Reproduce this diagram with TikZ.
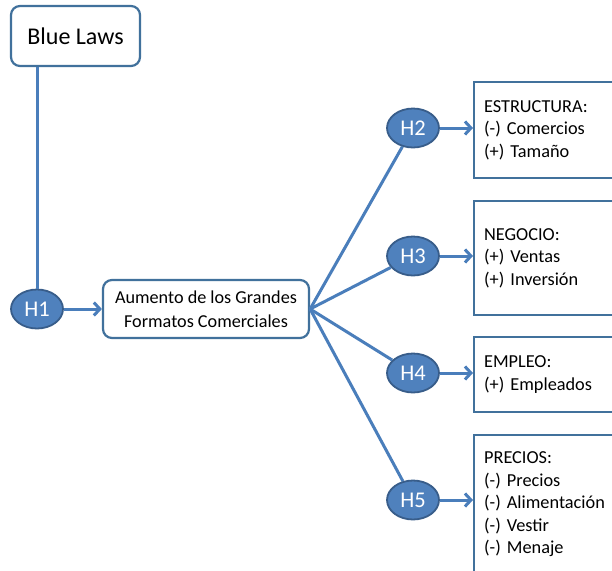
\documentclass[tikz,border=0pt]{standalone}
\usepackage{fontspec}
\setmainfont{Carlito}
\usetikzlibrary{shapes.geometric,arrows.meta}
\definecolor{lineblue}{HTML}{4A7EBB}
\definecolor{boxblue}{HTML}{41719C}
\definecolor{hfill}{HTML}{4F81BD}
\definecolor{hdraw}{HTML}{385D8A}
\tikzset{
  hyp/.style={ellipse, fill=hfill, draw=hdraw, line width=1.8pt, minimum width=52pt, minimum height=39pt, inner sep=0pt, text=white, font=\fontsize{22.5}{26}\selectfont},
  rbox/.style={draw=boxblue, line width=2.2pt, rounded corners=9pt, fill=white, align=center},
  resbox/.style={draw=boxblue, line width=2.2pt, fill=white, align=left, text width=142pt, inner xsep=10pt, inner ysep=0pt, anchor=west, font=\fontsize{18.3}{22.5}\selectfont},
  conn/.style={draw=lineblue, line width=3pt},
  arr/.style={conn, -{Straight Barb[length=6pt,width=13pt]}}
}
\begin{document}
\begin{tikzpicture}[x=1pt,y=-1pt]
\clip (0,0) rectangle (612,570);
\fill[white] (0,0) rectangle (612,570);
\node[rbox, minimum width=129pt, minimum height=60pt, font=\fontsize{24}{28}\selectfont] (bl) at (75.5,36) {Blue Laws};
\node[rbox, minimum width=206pt, minimum height=58pt, font=\fontsize{18.2}{24}\selectfont] (main) at (206,309) {Aumento de los Grandes\\Formatos Comerciales};
\node[hyp] (h1) at (37,309) {H1};
\node[hyp] (h2) at (413,128) {H2};
\node[hyp] (h3) at (413,256) {H3};
\node[hyp] (h4) at (413,373) {H4};
\node[hyp] (h5) at (413,500) {H5};
\node[resbox, minimum height=96pt] (r2) at (473,130) {ESTRUCTURA:\\(-) Comercios\\(+) Tamaño};
\node[resbox, minimum height=114pt] (r3) at (473,258) {NEGOCIO:\\(+) Ventas\\(+) Inversión};
\node[resbox, minimum height=75pt] (r4) at (473,374.5) {EMPLEO:\\(+) Empleados};
\node[resbox, minimum height=139pt] (r5) at (473,504.5) {PRECIOS:\\(-) Precios\\(-) Alimentación\\(-) Vestir\\(-) Menaje};
\draw[conn] (h1.north) -- (h1.north |- bl.south);
\draw[arr] (h1.east) -- (main.west);
\foreach \h in {h2,h3,h4,h5} {\draw[conn] (main.east) -- (\h);}
\draw[arr] (h2.east) -- (r2.west |- h2.east);
\draw[arr] (h3.east) -- (r3.west |- h3.east);
\draw[arr] (h4.east) -- (r4.west |- h4.east);
\draw[arr] (h5.east) -- (r5.west |- h5.east);
\end{tikzpicture}
\end{document}
